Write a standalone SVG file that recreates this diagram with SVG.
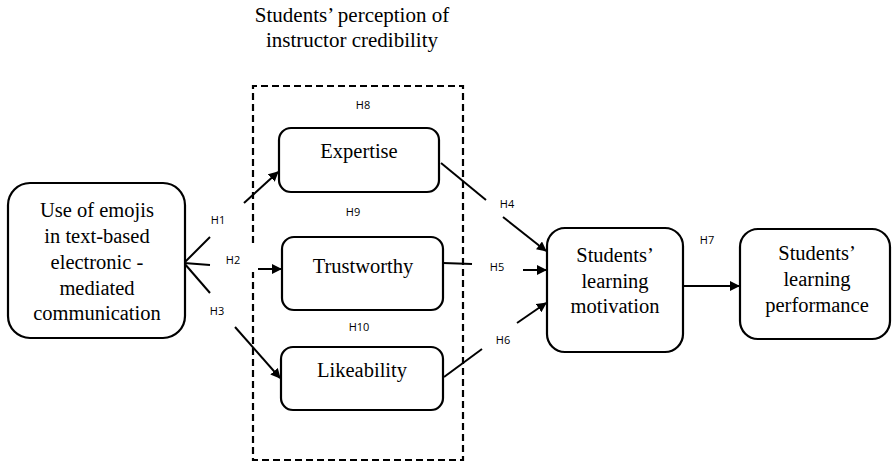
<svg xmlns="http://www.w3.org/2000/svg" width="892" height="463" viewBox="0 0 892 463">
  <style>
    .box { fill: #fff; stroke: #000; stroke-width: 2.2; }
    .t { font-family: "Liberation Serif", "Times New Roman", serif; font-size: 20.5px; fill: #000; text-anchor: middle; }
    .title { font-family: "Liberation Serif", "Times New Roman", serif; font-size: 21px; fill: #000; text-anchor: middle; }
    .h { font-family: "Open Sans", "Liberation Sans", sans-serif; font-size: 11px; fill: #000; text-anchor: middle; }
    .ln { fill: none; stroke: #000; stroke-width: 2; }
    .dash { fill: none; stroke: #000; stroke-width: 2.2; stroke-dasharray: 7 4; }
  </style>
  <defs>
    <marker id="arrow" viewBox="0 0 10 10" refX="9" refY="5" markerWidth="5" markerHeight="5" orient="auto" markerUnits="strokeWidth">
      <path d="M0,0 L10,5 L0,10 z" fill="#000"/>
    </marker>
  </defs>

  <rect width="892" height="463" fill="#fff"/>

  <!-- group title -->
  <g id="credibility-title">
    <text class="title" x="352" y="22">Students’ perception of</text>
    <text class="title" x="352" y="47">instructor credibility</text>
  </g>

  <!-- dashed credibility container -->
  <g id="credibility-frame">
    <path class="dash" d="M253,243 L253,86 L463,86 L463,460 L253,460 L253,272"/>
  </g>

  <!-- connectors -->
  <g id="connectors">
    <!-- fan from emoji node -->
    <line class="ln" x1="184" y1="263" x2="210" y2="237"/>
    <line class="ln" x1="184" y1="263" x2="210" y2="265"/>
    <line class="ln" x1="184" y1="263" x2="210" y2="293"/>
    <!-- H1 -->
    <line class="ln" x1="244" y1="203" x2="278" y2="172" marker-end="url(#arrow)"/>
    <!-- H2 -->
    <line class="ln" x1="258" y1="269" x2="281" y2="269" marker-end="url(#arrow)"/>
    <!-- H3 -->
    <line class="ln" x1="235" y1="327" x2="280" y2="378" marker-end="url(#arrow)"/>
    <!-- H4 -->
    <line class="ln" x1="441" y1="163" x2="486" y2="200"/>
    <line class="ln" x1="503" y1="217" x2="546" y2="251" marker-end="url(#arrow)"/>
    <!-- H5 -->
    <line class="ln" x1="443" y1="263" x2="472" y2="264"/>
    <line class="ln" x1="523" y1="270" x2="546" y2="270" marker-end="url(#arrow)"/>
    <!-- H6 -->
    <line class="ln" x1="444" y1="377" x2="482" y2="349"/>
    <line class="ln" x1="517" y1="323" x2="546" y2="303" marker-end="url(#arrow)"/>
    <!-- H7 -->
    <line class="ln" x1="683" y1="286" x2="739" y2="286" marker-end="url(#arrow)"/>
  </g>

  <!-- hypothesis labels -->
  <g id="hypotheses">
    <text class="h" x="218" y="224">H1</text>
    <text class="h" x="233" y="264">H2</text>
    <text class="h" x="217" y="315">H3</text>
    <text class="h" x="507" y="208">H4</text>
    <text class="h" x="497" y="271">H5</text>
    <text class="h" x="503" y="344">H6</text>
    <text class="h" x="707" y="244">H7</text>
    <text class="h" x="363" y="109">H8</text>
    <text class="h" x="353" y="216">H9</text>
    <text class="h" x="359" y="331">H10</text>
  </g>

  <g id="emoji-use">
    <rect class="box" x="8" y="183" width="177" height="155" rx="22"/>
    <text class="t" x="97" y="217">Use of emojis</text>
    <text class="t" x="97" y="243">in text-based</text>
    <text class="t" x="97" y="269">electronic -</text>
    <text class="t" x="97" y="295">mediated</text>
    <text class="t" x="97" y="320">communication</text>
  </g>

  <g id="expertise">
    <rect class="box" x="279" y="128" width="160" height="64" rx="12"/>
    <text class="t" x="359" y="158">Expertise</text>
  </g>

  <g id="trustworthy">
    <rect class="box" x="282" y="237" width="161" height="73" rx="12"/>
    <text class="t" x="363" y="273">Trustworthy</text>
  </g>

  <g id="likeability">
    <rect class="box" x="281" y="347" width="162" height="63" rx="12"/>
    <text class="t" x="362" y="377">Likeability</text>
  </g>

  <g id="motivation">
    <rect class="box" x="547" y="228" width="136" height="124" rx="18"/>
    <text class="t" x="615" y="262">Students’</text>
    <text class="t" x="615" y="288">learning</text>
    <text class="t" x="615" y="313">motivation</text>
  </g>

  <g id="performance">
    <rect class="box" x="740" y="229" width="150" height="110" rx="18"/>
    <text class="t" x="817" y="260">Students’</text>
    <text class="t" x="817" y="286">learning</text>
    <text class="t" x="817" y="312">performance</text>
  </g>
</svg>
